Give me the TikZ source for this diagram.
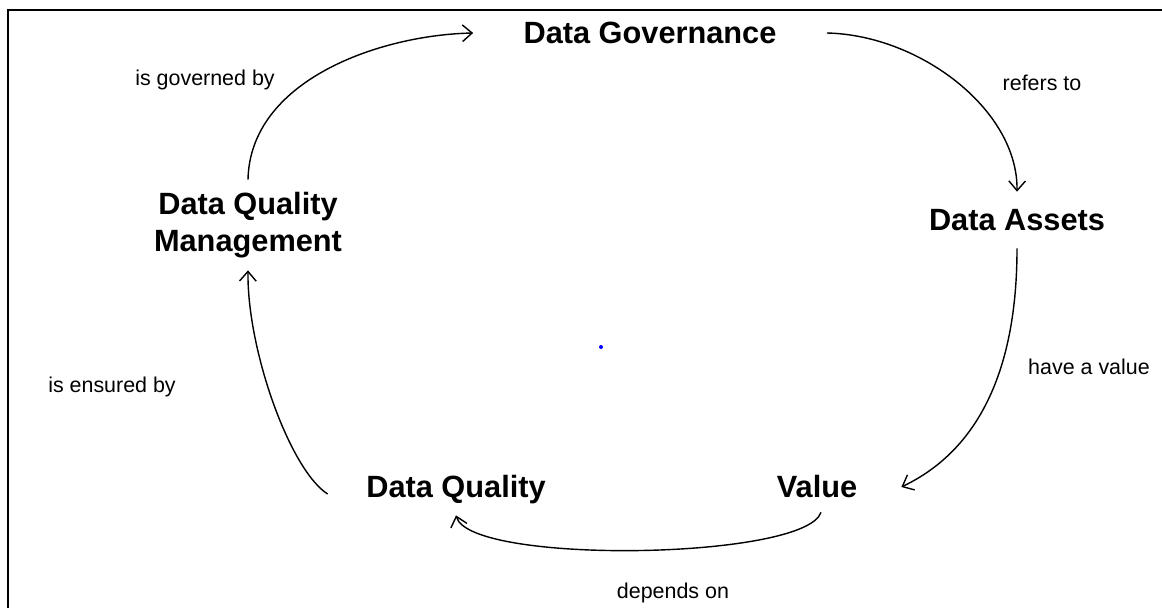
\documentclass[tikz,border=0pt]{standalone}
\usepackage{fontspec}
\setmainfont{Liberation Sans}
\usetikzlibrary{arrows.meta}
\begin{document}
\begin{tikzpicture}[x=0.02cm,y=-0.02cm,
  concept/.style={font=\fontsize{17.5}{21}\selectfont\bfseries, align=center, inner ysep=0pt, inner xsep=0pt},
  lbl/.style={font=\fontsize{12.2}{14}\selectfont, inner sep=0pt},
  link/.style={line width=0.8pt, -{Straight Barb[length=5.5pt,width=9.5pt,line width=0.8pt]}},
  frame/.style={line width=0.9pt}]
\useasboundingbox (0,0) rectangle (1162,608);
\draw[frame] (1162,10) -- (8,10) -- (8,608);
\fill[blue] (601,347) circle (2);
% concepts
\node[concept, minimum width=353*0.02cm, minimum height=20*0.02cm] (dg) at (650,33) {Data Governance};
\node[concept, minimum height=90*0.02cm] (dqm) at (248,225) {Data Quality\\Management};
\node[concept, minimum height=56*0.02cm] (da) at (1017,220) {Data Assets};
\node[concept, minimum width=168*0.02cm, minimum height=50*0.02cm] (val) at (817,487) {Value};
\node[concept, minimum width=256*0.02cm, minimum height=50*0.02cm] (dq) at (456,490) {Data Quality};
% labels
\node[lbl] (l1) at (205,80) {is governed by};
\node[lbl] (l2) at (1042,83) {refers to};
\node[lbl] (l3) at (1089,367) {have a value};
\node[lbl] (l4) at (112,387) {is ensured by};
\node[lbl] (l5) at (673,593) {depends on};
% connectors
\draw[link] (dqm.north) .. controls (250,80) and (380,35) .. (dg.west);
\draw[link] (dg.east) .. controls (920,35) and (1018,110) .. (da.north);
\draw[link] (da.south) .. controls (1017,330) and (1000,440) .. (val.east);
\draw[link] ([xshift=4*0.02cm]val.south) .. controls (805,560) and (470,565) .. (dq.south);
\draw[link] ([yshift=-4*0.02cm]dq.west) .. controls (290,470) and (247,350) .. (dqm.south);
\end{tikzpicture}
\end{document}
